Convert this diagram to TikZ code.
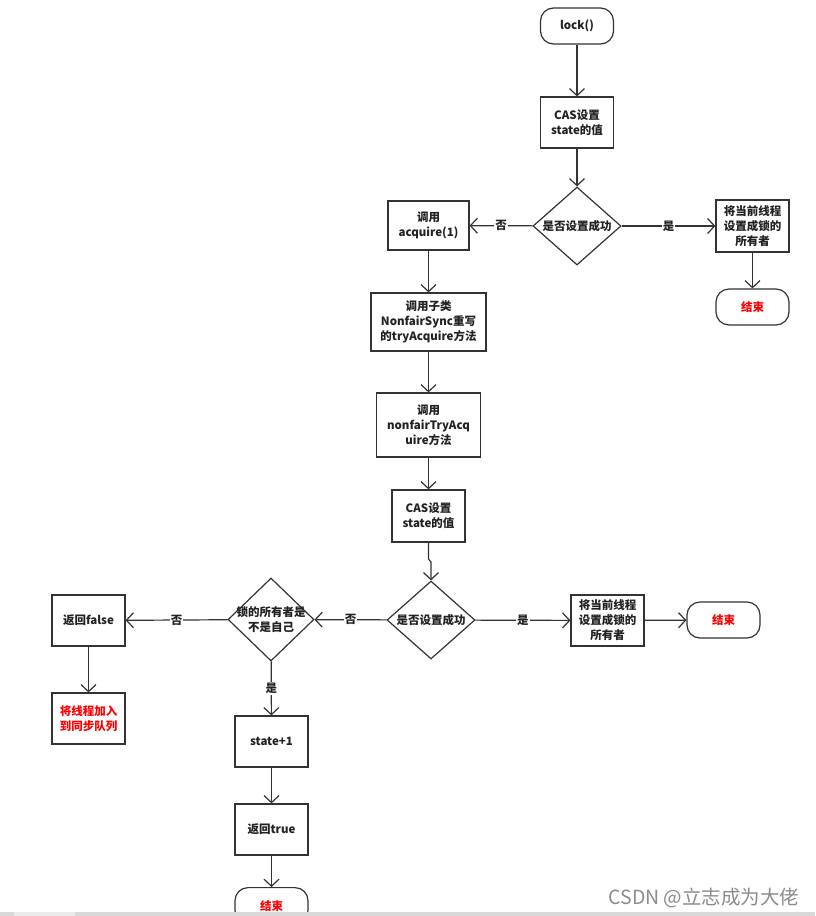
\documentclass[tikz,border=0pt]{standalone}
\usepackage{fontspec}
\setmainfont{Noto Sans CJK SC}
\usetikzlibrary{shapes.geometric,arrows.meta}
\definecolor{ln}{HTML}{333333}
\definecolor{tx}{HTML}{222222}
\tikzset{
  base/.style={draw=ln, line width=1.2pt, text=tx, font=\fontsize{11.5}{15}\selectfont\bfseries, align=center, inner sep=0pt},
  box/.style={base, rectangle, minimum width=#1},
  term/.style={base, rectangle, rounded corners=13pt, minimum width=73pt, minimum height=36pt},
  dia/.style={draw=ln, line width=1.2pt, diamond, minimum width=88pt, minimum height=78pt, inner sep=0pt},
  dtxt/.style={text=tx, font=\fontsize{11.5}{15}\selectfont\bfseries, align=center, inner sep=0pt},
  arr/.style={draw=ln, line width=1.2pt, -{Straight Barb[length=7pt,width=15pt,line width=1.2pt]}},
  lab/.style={fill=white, text=tx, font=\fontsize{11.5}{14}\selectfont\bfseries, inner sep=1pt},
}
\begin{document}
\begin{tikzpicture}[x=1pt,y=-1pt]
\useasboundingbox (0,0) rectangle (815,916);
\fill[white] (0,0) rectangle (815,916);

\node[term] (lock) at (577,26) {lock()};
\node[box=73pt, minimum height=51pt] (cas1) at (577,122.5) {CAS设置\\state的值};
\node[dia] (d1) at (577,226) {};
\node[dtxt] at (d1) {是否设置成功};
\node[box=81pt, minimum height=49pt] (acq) at (428.5,225.5) {调用\\acquire(1)};
\node[box=73pt, minimum height=52pt] (own1) at (752.5,226) {将当前线程\\设置成锁的\\所有者};
\node[term, text=red] (end1) at (752.5,307) {结束};
\node[box=115pt, minimum height=58pt] (nfs) at (428.5,322) {调用子类\\NonfairSync重写\\的tryAcquire方法};
\node[box=104pt, minimum height=64pt] (ntry) at (428.5,425) {调用\\nonfairTryAcq\\uire方法};
\node[box=73pt, minimum height=52pt] (cas2) at (428.5,516) {CAS设置\\state的值};
\node[dia] (d2) at (431,620) {};
\node[dtxt] at (d2) {是否设置成功};
\node[box=73pt, minimum height=51pt] (own2) at (607.5,620.5) {将当前线程\\设置成锁的\\所有者};
\node[term, text=red] (end2) at (723.5,620) {结束};
\node[dia, minimum width=86pt, minimum height=83pt] (d3) at (271,619.5) {};
\node[dtxt] at (d3) {锁的所有者是\\不是自己};
\node[box=73pt, minimum height=51pt] (rf) at (88.5,620.5) {返回false};
\node[box=73pt, minimum height=51pt, text=red] (queue) at (88.5,718.5) {将线程加入\\到同步队列};
\node[box=73pt, minimum height=51pt] (inc) at (271.5,741.5) {state+1};
\node[box=73pt, minimum height=51pt] (rt) at (271.5,829.5) {返回true};
\node[term, text=red, anchor=north] (end3) at (271.5,887) {结束};

\coordinate (j1) at (428.5,559);
\coordinate (j2) at (431,562);

\draw[arr] (lock) -- (cas1);
\draw[arr] (cas1) -- (d1);
\draw[arr] (d1) -- node[lab]{否} (acq);
\draw[arr] (d1) -- node[lab]{是} (own1);
\draw[arr] (own1) -- (end1);
\draw[arr] (acq) -- (nfs);
\draw[arr] (nfs) -- (ntry);
\draw[arr] (ntry) -- (cas2);
\draw[arr] (cas2.south) -- (j1) -- (j2) -- (d2.north);
\draw[arr] (d2) -- node[lab]{是} (own2);
\draw[arr] (own2) -- (end2);
\draw[arr] (d2) -- node[lab]{否} (d3);
\draw[arr] (d3) -- node[lab]{否} (rf);
\draw[arr] (rf) -- (queue);
\draw[arr] (d3) -- node[lab]{是} (inc);
\draw[arr] (inc) -- (rt);
\draw[arr] (rt) -- (end3);

\node[text=black!45, font=\fontsize{19.5}{21}\selectfont, inner sep=0pt] (wm) at (704,898) {CSDN @立志成为大佬};
\fill[black!15] (0,912) rectangle (815,916);
\fill[black!8] (14,912) rectangle (75,916);
\end{tikzpicture}
\end{document}
